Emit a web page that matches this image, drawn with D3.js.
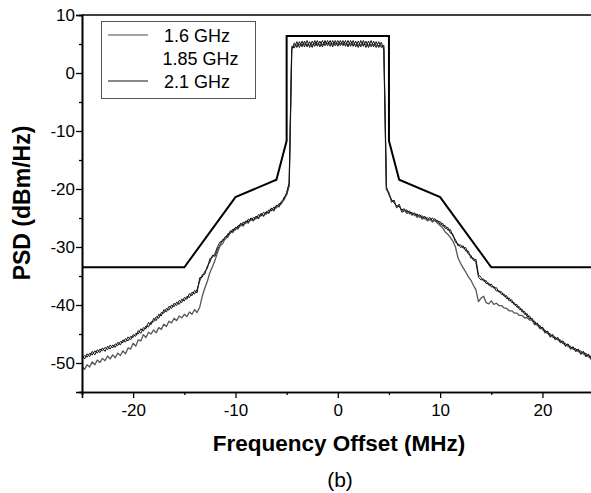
<!DOCTYPE html>
<html><head><meta charset="utf-8">
<script src="https://cdn.jsdelivr.net/npm/d3@7"></script>
<style>body{margin:0;background:#fff}text{font-family:Arial,"Liberation Sans",sans-serif}</style>
</head><body>
<svg id="c" width="591" height="493"></svg>
<script>
// Frequency grid (MHz)
const freqs = d3.range(0, 201).map(i => -25 + i * 0.25);
const seriesNames = ["1.6 GHz", "1.85 GHz", "2.1 GHz"];
const xTicks = [-20, -10, 0, 10, 20];
const yTicks = [-50, -40, -30, -20, -10, 0, 10];
// Spectral mask
const maskFreq = [-25, -15, -10, -6, -5, -5, 5, 5, 6, 10, 15, 25];
const maskPsd = [-33.5, -33.5, -21.4, -18.4, -11.7, 6.4, 6.4, -11.7, -18.4, -21.4, -33.5, -33.5];

const psd16 = [
-48.6,-49.3,-48.4,-48.9, -48.0,-48.6,-47.7,-48.2, -47.4,-48.0,-47.1,-47.6, -46.9,-47.3,-46.4,-46.9,
-46.0,-46.4,-45.5,-46.0, -45.1,-45.4,-44.4,-44.9, -43.9,-44.1,-43.0,-43.4, -42.3,-42.7,-41.6,-41.9,
-40.8,-41.2,-40.2,-40.6, -39.7,-40.1,-39.2,-39.6, -38.7,-39.0,-38.0,-38.4, -37.5,-37.9,-35.3,-35.2,
-34.2,-33.7,-32.0,-31.8, -31.1,-29.9,-29.1,-29.0, -28.2,-28.1,-27.2,-27.3, -26.6,-26.7,-25.9,-26.2,
-25.5,-25.7,-25.0,-25.4, -24.7,-25.0,-24.2,-24.6, -23.9,-24.1,-23.3,-23.6, -22.8,-23.0,-22.1,-21.7,
-20.6,-18.9,4.0,5.2, 4.4,5.4,4.5,5.5, 4.5,5.4,4.4,5.6, 4.6,5.5,4.5,5.6,
4.7,5.6,4.5,5.6, 4.6,5.6,4.7,5.6, 4.5,5.6,4.6,5.5, 4.4,5.6,4.6,5.5,
4.4,5.6,4.5,5.4, 4.4,5.3,4.0,-19.6, -21.0,-21.8,-22.4,-22.9, -23.0,-23.6,-23.4,-24.0,
-23.8,-24.4,-24.1,-24.7, -24.4,-25.0,-24.7,-25.3, -24.9,-25.5,-25.1,-25.7, -25.6,-26.4,-26.3,-27.1,
-27.0,-28.1,-28.7,-29.8, -29.6,-30.2,-30.1,-31.2, -31.4,-32.3,-32.1,-34.8, -35.2,-35.9,-35.8,-36.6,
-36.4,-37.1,-37.0,-37.8, -37.7,-38.5,-38.4,-39.3, -39.1,-40.0,-39.9,-40.8, -40.7,-41.6,-41.5,-42.4,
-42.3,-43.3,-43.1,-44.0, -43.8,-44.7,-44.5,-45.4, -45.1,-45.9,-45.6,-46.4, -46.2,-47.0,-46.7,-47.5,
-47.2,-47.9,-47.6,-48.4, -48.0,-48.8,-48.5,-49.3, -48.9];

const psd185 = [
-49.2,-48.7,-49.0,-48.3, -48.6,-47.9,-48.3,-47.6, -47.9,-47.3,-47.7,-46.9, -47.4,-46.7,-47.0,-46.3,
-46.5,-45.8,-46.2,-45.4, -45.6,-44.9,-45.0,-44.1, -44.5,-43.6,-43.8,-42.9, -42.9,-42.0,-42.3,-41.3,
-41.4,-40.6,-40.9,-40.0, -40.3,-39.5,-39.9,-39.0, -39.3,-38.5,-38.7,-37.8, -38.1,-37.3,-35.9,-34.8,
-34.7,-33.3,-32.6,-31.4, -31.6,-30.4,-29.6,-28.7, -28.7,-27.7,-27.7,-26.9, -27.1,-26.3,-26.4,-25.7,
-26.0,-25.2,-25.5,-24.9, -25.2,-24.4,-24.7,-24.0, -24.4,-23.6,-23.8,-23.1, -23.3,-22.5,-22.6,-21.4,
-21.1,-19.5,4.6,4.3, 5.4,4.4,5.5,4.5, 5.6,4.4,5.5,4.6, 5.6,4.5,5.6,4.7,
5.6,4.6,5.6,4.7, 5.6,4.7,5.6,4.6, 5.6,4.6,5.6,4.5, 5.5,4.5,5.6,4.4,
5.5,4.5,5.5,4.4, 5.4,4.4,4.8,-20.2, -20.6,-22.3,-21.9,-23.3, -22.6,-24.0,-23.8,-23.6,
-24.3,-24.0,-24.6,-24.3, -24.9,-24.6,-25.2,-24.9, -25.4,-25.0,-25.6,-25.4, -26.1,-25.9,-26.8,-26.6,
-27.6,-27.8,-29.2,-29.4, -30.1,-29.8,-30.7,-30.7, -31.9,-31.9,-32.7,-35.2, -35.7,-35.5,-36.3,-36.2,
-36.9,-36.8,-37.6,-37.5, -38.2,-38.1,-38.9,-38.8, -39.6,-39.6,-40.4,-40.3, -41.2,-41.1,-42.0,-41.9,
-42.8,-42.8,-43.6,-43.5, -44.3,-44.3,-45.0,-44.9, -45.6,-45.5,-46.1,-46.0, -46.7,-46.6,-47.2,-47.1,
-47.7,-47.5,-48.1,-47.9, -48.5,-48.3,-49.0,-48.8, -49.4];

const psd21 = [
-50.6,-51.1,-50.3,-50.7, -49.8,-50.3,-49.5,-49.9, -49.2,-49.6,-48.8,-49.3, -48.6,-49.1,-48.3,-48.7,
-47.9,-48.4,-47.4,-47.6, -46.6,-47.1,-46.0,-46.2, -45.1,-45.6,-44.7,-45.0, -44.3,-44.8,-43.9,-44.2,
-43.3,-43.7,-42.8,-43.1, -42.3,-42.7,-41.9,-42.2, -41.6,-42.0,-41.2,-41.6, -40.8,-41.3,-40.4,-38.5,
-37.1,-35.9,-34.4,-33.4, -32.3,-30.9,-29.8,-29.4, -28.5,-28.3,-27.4,-27.5, -26.8,-26.9,-26.1,-26.4,
-25.6,-25.9,-25.1,-25.5, -24.8,-25.1,-24.3,-24.7, -24.0,-24.2,-23.4,-23.8, -22.9,-23.1,-22.3,-21.9,
-20.8,-19.2,4.3,4.7, 4.8,4.9,4.9,5.0, 4.9,4.8,4.8,5.1, 5.0,4.9,4.9,5.2,
5.1,5.0,5.0,5.1, 5.0,5.1,5.1,5.0, 4.9,5.0,5.0,4.9, 4.8,4.9,5.0,4.9,
4.8,4.9,4.9,4.8, 4.7,4.7,4.4,-19.9, -20.8,-22.0,-22.2,-23.1, -22.8,-23.8,-23.6,-24.2,
-24.0,-24.5,-24.3,-24.9, -24.6,-25.2,-24.9,-25.5, -25.2,-25.7,-25.4,-25.9, -26.3,-26.7,-27.4,-27.8,
-28.4,-29.0,-30.0,-31.9, -32.8,-33.6,-34.3,-35.1, -35.7,-36.6,-37.4,-39.4, -38.8,-38.5,-39.6,-39.8,
-39.3,-39.9,-39.7,-40.1, -40.1,-40.5,-40.6,-41.0, -41.0,-41.4,-41.4,-41.8, -41.8,-42.2,-42.2,-42.6,
-42.6,-43.4,-43.3,-44.1, -43.9,-44.8,-44.6,-45.5, -45.2,-46.0,-45.7,-46.5, -46.3,-47.1,-46.8,-47.6,
-47.3,-48.0,-47.7,-48.5, -48.1,-48.9,-48.6,-49.4, -49.0];

const svg = d3.select("#c");
const L = 82, R = 593.6, T = 15, B = 392;
const x = d3.scaleLinear().domain([-25, 25]).range([L, R]);
const y = d3.scaleLinear().domain([-55, 10]).range([B, T]);

svg.append("clipPath").attr("id", "clip").append("rect")
  .attr("x", L).attr("y", T).attr("width", R - L).attr("height", B - T);

const line = d3.line().x((d, i) => x(freqs[i])).y(d => y(d));
const g = svg.append("g").attr("clip-path", "url(#clip)");
const styles = [
  {data: psd185, color: "#111", w: 1.0},
  {data: psd21, color: "#555", w: 1.3},
  {data: psd16, color: "#111", w: 1.0}
];
styles.forEach(s => {
  g.append("path").datum(s.data).attr("d", line)
    .attr("fill", "none").attr("stroke", s.color).attr("stroke-width", s.w)
    .attr("stroke-linejoin", "round");
});
const maskLine = d3.line().x((d, i) => x(maskFreq[i])).y(d => y(d));
g.append("path").datum(maskPsd).attr("d", maskLine)
  .attr("fill", "none").attr("stroke", "#000").attr("stroke-width", 2);

// Axes
const xAxis = d3.axisBottom(x).tickValues(xTicks).tickSize(6).tickPadding(6).tickFormat(d3.format("d"));
const xMinor = d3.axisBottom(x).tickValues([-25, -15, -5, 5, 15, 25]).tickSize(3).tickFormat("");
const yAxis = d3.axisLeft(y).tickValues(yTicks).tickSize(6).tickPadding(1).tickFormat(d => d);
const yMinor = d3.axisLeft(y).tickValues([-55, -45, -35, -25, -15, -5, 5]).tickSize(3).tickFormat("");

function styleAxis(sel) {
  sel.selectAll(".domain").attr("stroke", "#000").attr("stroke-width", 1.6);
  sel.selectAll(".tick line").attr("stroke", "#000").attr("stroke-width", 1.3);
  sel.selectAll("text").attr("font-size", 17).attr("fill", "#000")
    .style("font-family", "Arial, 'Liberation Sans', sans-serif");
}
svg.append("g").attr("transform", `translate(0,${B})`).call(xAxis).call(styleAxis);
svg.append("g").attr("transform", `translate(0,${B})`).call(xMinor).call(styleAxis);
svg.append("g").attr("transform", `translate(${L},0)`).call(yAxis).call(styleAxis);
svg.append("g").attr("transform", `translate(${L},0)`).call(yMinor).call(styleAxis);
svg.selectAll(".tick text").text(function(){ return d3.select(this).text().replace("\u2212", "-"); });
// top frame line
svg.append("line").attr("x1", L).attr("x2", R).attr("y1", T).attr("y2", T)
  .attr("stroke", "#000").attr("stroke-width", 1.6);

// Axis titles
svg.append("text").attr("x", 339).attr("y", 451).attr("text-anchor", "middle")
  .attr("font-size", 22.5).attr("font-weight", "bold").text("Frequency Offset (MHz)");
svg.append("text").attr("transform", "translate(30,203) rotate(-90)").attr("text-anchor", "middle")
  .attr("font-size", 23).attr("font-weight", "bold").text("PSD (dBm/Hz)");
svg.append("text").attr("x", 340).attr("y", 487).attr("text-anchor", "middle")
  .attr("font-size", 21).text("(b)");

// Legend
const lg = svg.append("g");
lg.append("rect").attr("x", 101.5).attr("y", 21.5).attr("width", 154).attr("height", 77)
  .attr("fill", "#fff").attr("stroke", "#555").attr("stroke-width", 1);
const legendRows = [
  {name: seriesNames[0], ly: 35, ty: 41.5, tx: 164, color: "#444", w: 1, show: true},
  {name: seriesNames[1], ly: 58, ty: 65, tx: 162.5, color: "#fff", w: 0, show: false},
  {name: seriesNames[2], ly: 81, ty: 88, tx: 164, color: "#888", w: 2, show: true}
];
legendRows.forEach(r => {
  if (r.show) lg.append("line").attr("x1", 108).attr("x2", 148).attr("y1", r.ly).attr("y2", r.ly)
    .attr("stroke", r.color).attr("stroke-width", r.w);
  lg.append("text").attr("x", r.tx).attr("y", r.ty).attr("font-size", 18).text(r.name);
});
</script>
</body></html>
